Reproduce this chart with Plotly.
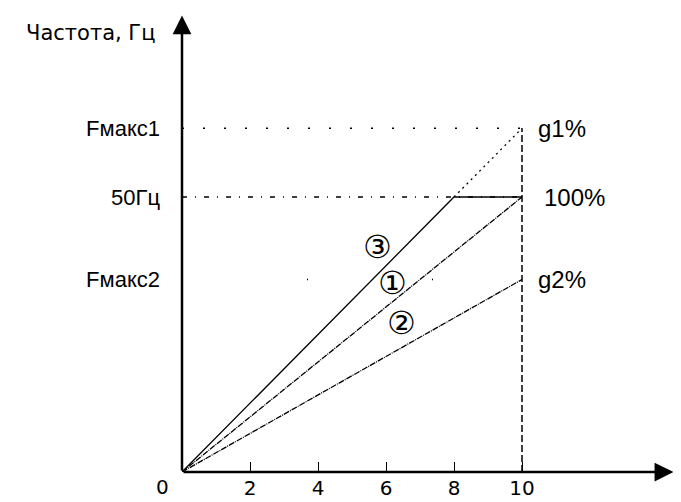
import plotly.graph_objects as go

# speed setting (x) and output frequency (Hz)
x_ticks = [2, 4, 6, 8, 10]
f_max1 = 62.5
f_nom = 50
f_max2 = 35
x_end = 10

line1_x = [0, 10]
line1_y = [0, 50]
line2_x = [0, 10]
line2_y = [0, 35]
line3_x = [0, 8, 10]
line3_y = [0, 50, 50]
line3_ext_x = [8, 10]
line3_ext_y = [50, 62.5]

y_labels = ["Fмакс1", "50Гц", "Fмакс2"]
right_labels = ["g1%", "100%", "g2%"]
right_x = [10.42, 10.58, 10.42]
circle_labels = ["③", "①", "②"]
circle_x = [5.76, 6.18, 6.47]
circle_y = [40.9, 34.4, 27.1]

FONT = "Liberation Sans, Arial, sans-serif"
WIDE = "DejaVu Sans"
BLACK = "#000000"

fig = go.Figure()


def add_line(xs, ys, dash, width=1.3):
    fig.add_trace(go.Scatter(x=xs, y=ys, mode="lines",
                             line=dict(color=BLACK, width=width, dash=dash),
                             hoverinfo="skip", showlegend=False))


# guide lines
add_line([0, x_end], [f_max1, f_max1], "2px,19px", 1.5)
add_line([0, x_end], [f_nom, f_nom], "5px,8px,1px,8px")
add_line([0, x_end], [f_max2, f_max2], "1px,124px", 1.5)
add_line([x_end, x_end], [0, f_max1], "7px,3px", 1.5)

# characteristic lines
add_line(line1_x, line1_y, "6px,1px,1px,1px")
add_line(line2_x, line2_y, "6px,1px,1px,1px")
add_line(line3_x, line3_y, "solid")
add_line(line3_ext_x, line3_ext_y, "2px,4px")

# axes with arrows
fig.add_annotation(x=14.45, y=0, ax=0, ay=0, xref="x", yref="y", axref="x", ayref="y",
                   text="", showarrow=True, arrowhead=2, arrowsize=1.5, arrowwidth=2.5,
                   arrowcolor=BLACK)
fig.add_annotation(x=0, y=83, ax=0, ay=0, xref="x", yref="y", axref="x", ayref="y",
                   text="", showarrow=True, arrowhead=2, arrowsize=1.5, arrowwidth=2.5,
                   arrowcolor=BLACK)

fig.add_annotation(x=-0.051, y=0.95, xref="paper", yref="paper", text="Частота, Гц",
                   showarrow=False, xanchor="right", yanchor="middle",
                   font=dict(size=21, color=BLACK, family=WIDE))
fig.add_annotation(x=-0.039, y=-0.033, xref="paper", yref="paper", text="0",
                   showarrow=False, xanchor="center", yanchor="middle",
                   font=dict(size=20, color=BLACK, family=WIDE))

for txt, xv, yv in zip(right_labels, right_x, [f_max1, f_nom, f_max2]):
    fig.add_annotation(x=xv, y=yv, text=txt, showarrow=False,
                       xanchor="left", yanchor="middle", font=dict(size=24, color=BLACK))

for txt, xv, yv in zip(circle_labels, circle_x, circle_y):
    fig.add_annotation(x=xv, y=yv, text=txt, showarrow=False,
                       font=dict(size=32, color=BLACK, family=WIDE))

# the page body adds an 8px margin, so the figure is 8px smaller each way
fig.update_layout(
    width=673, height=494,
    margin=dict(l=174, r=6, t=2, b=30),
    plot_bgcolor="white", paper_bgcolor="white",
    font=dict(family=FONT, size=22, color=BLACK),
    xaxis=dict(range=[0, 14.5], tickvals=x_ticks, ticks="inside", ticklen=10,
               tickcolor=BLACK, tickwidth=1.2, showgrid=False, zeroline=False,
               showline=False, ticklabelstandoff=2,
               tickfont=dict(size=20, family=WIDE), fixedrange=True),
    yaxis=dict(range=[0, 84], tickvals=[f_max1, f_nom, f_max2], ticktext=y_labels,
               ticks="", showgrid=False, zeroline=False, showline=False,
               ticklabelstandoff=21, fixedrange=True),
)

fig.write_html("out.html")
